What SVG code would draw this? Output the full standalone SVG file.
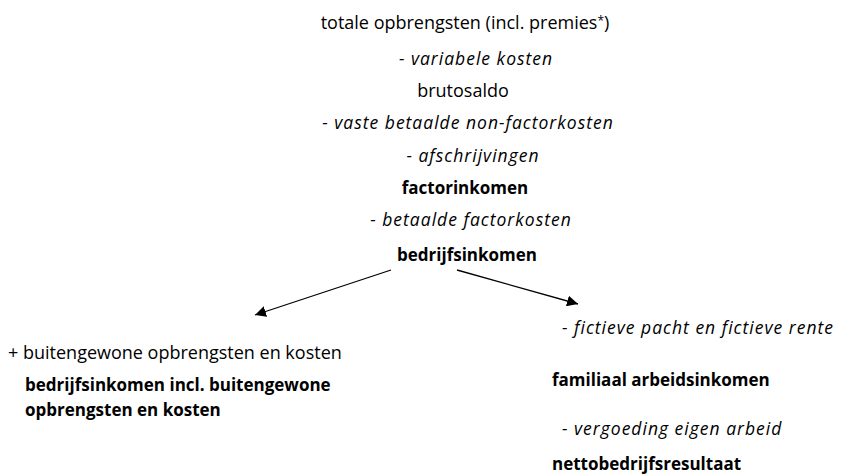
<svg xmlns="http://www.w3.org/2000/svg" width="849" height="475" viewBox="0 0 849 475">
<style>
text{font-family:"Open Sans","Noto Sans","DejaVu Sans",sans-serif;font-size:18px;fill:#000}
.c{text-anchor:middle}
.i{font-style:italic;font-size:17.5px;letter-spacing:1px}
.b{font-weight:bold;font-size:17px}
.edge{stroke:#000;stroke-width:1.3;fill:none}
</style>
<defs>
<marker id="ah" viewBox="0 0 10 10" refX="10" refY="5" markerWidth="11" markerHeight="11" markerUnits="userSpaceOnUse" orient="auto">
<path d="M0,0 L10,5 L0,10 z" fill="#000"/>
</marker>
</defs>
<rect width="849" height="475" fill="#fff"/>
<g id="totale"><text class="c" x="465" y="29">totale opbrengsten (incl. premies<tspan font-size="12" dy="-4">*</tspan><tspan dy="4">)</tspan></text></g>
<g id="variabele"><text class="c i" x="476" y="65">- variabele kosten</text></g>
<g id="brutosaldo"><text class="c" x="463" y="97">brutosaldo</text></g>
<g id="vaste"><text class="c i" x="468" y="129">- vaste betaalde non-factorkosten</text></g>
<g id="afschrijvingen"><text class="c i" x="473" y="162">- afschrijvingen</text></g>
<g id="factorinkomen"><text class="c b" x="465" y="194">factorinkomen</text></g>
<g id="betaalde"><text class="c i" x="471" y="226">- betaalde factorkosten</text></g>
<g id="bedrijfsinkomen"><text class="c b" x="467" y="261">bedrijfsinkomen</text></g>
<g id="buitengewone"><text x="8" y="359">+ buitengewone opbrengsten en kosten</text></g>
<g id="bedrijfsinkomen-incl"><text class="b" x="25" y="391">bedrijfsinkomen incl. buitengewone</text><text class="b" x="25" y="416">opbrengsten en kosten</text></g>
<g id="fictieve"><text class="i" x="562" y="334">- fictieve pacht en fictieve rente</text></g>
<g id="familiaal"><text class="b" x="552" y="386">familiaal arbeidsinkomen</text></g>
<g id="vergoeding"><text class="i" x="562" y="435">- vergoeding eigen arbeid</text></g>
<g id="netto"><text class="b" x="552" y="470">nettobedrijfsresultaat</text></g>
<g id="connectors">
<line class="edge" x1="391" y1="270" x2="255" y2="315" marker-end="url(#ah)"/>
<line class="edge" x1="457" y1="270" x2="578" y2="304" marker-end="url(#ah)"/>
</g>
</svg>
